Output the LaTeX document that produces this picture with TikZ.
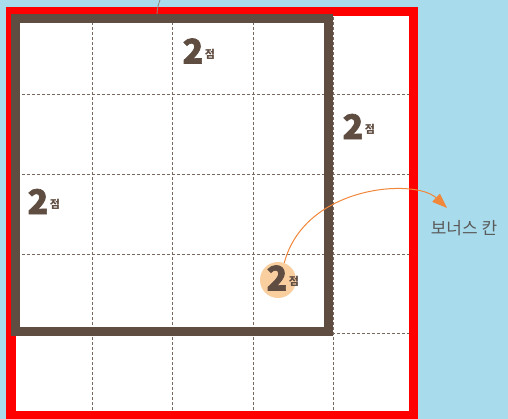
\documentclass[tikz,border=0pt]{standalone}
\usepackage{fontspec}
\newfontfamily\kr{Noto Sans CJK KR}
\newfontfamily\krh[BoldFeatures={FakeBold=2}]{Noto Sans CJK KR}
\usetikzlibrary{arrows.meta,positioning}
\definecolor{sky}{HTML}{A8DCEC}
\definecolor{bark}{HTML}{604D41}
\definecolor{peach}{HTML}{F9CFA0}
\definecolor{amber}{HTML}{F0873A}
\definecolor{ink}{HTML}{5A5A5A}

\begin{document}
\begin{tikzpicture}[x=1pt,y=-1pt,>={Triangle[length=15pt,width=11pt]},
  g/.style={draw=bark!85,line width=0.9pt,dash pattern=on 3pt off 2pt},
  two/.style={font=\krh\bfseries\fontsize{34}{34}\selectfont,text=bark,inner sep=0pt},
  jm/.style={font=\kr\bfseries\fontsize{11}{11}\selectfont,text=bark,inner sep=0pt,yshift=-3pt}]
\useasboundingbox (0,0) rectangle (508,419);
\fill[sky] (0,0) rectangle (508,419);
\fill[white] (12,12) rectangle (412,414);
% grid
\foreach \x in {92,172,253,333} \draw[g] (\x,12)--(\x,414);
\foreach \y in {94,174,254,333} \draw[g] (12,\y)--(412,\y);
\draw[red,line width=9.5pt] (10.8,11.5) rectangle (413.5,416);
\draw[bark,line width=9pt] (15.5,18.5) rectangle (328.5,331.5);
\coordinate (lb) at (157,14);
\coordinate (lt) at (160,0);
\draw[bark!70,line width=0.8pt] (lb) to[bend left=8] (lt);
% points
\node[circle,fill=peach,minimum size=36pt,inner sep=0pt] (c4) at (278,280) {};
\node[two] (t1) at (193,51) {2};
\node[jm,right=1pt of t1] (j1) {점};
\node[two] (t2) at (353,126.5) {2};
\node[jm,right=1pt of t2] (j2) {점};
\node[two] (t3) at (38,201.5) {2};
\node[jm,right=1pt of t3] (j3) {점};
\node[two] (t4) at (277,278) {2};
\node[jm,right=1pt of t4] (j4) {점};
% bonus
\node[font=\kr\fontsize{17}{17}\selectfont,text=ink,inner sep=0pt] (bonus) at (464,228.5) {보너스 칸};
\coordinate (tip) at (447,208);
\draw[amber,line width=1pt,->] (c4.70) .. controls (305,185) and (415,178) .. (tip);
\end{tikzpicture}
\end{document}
